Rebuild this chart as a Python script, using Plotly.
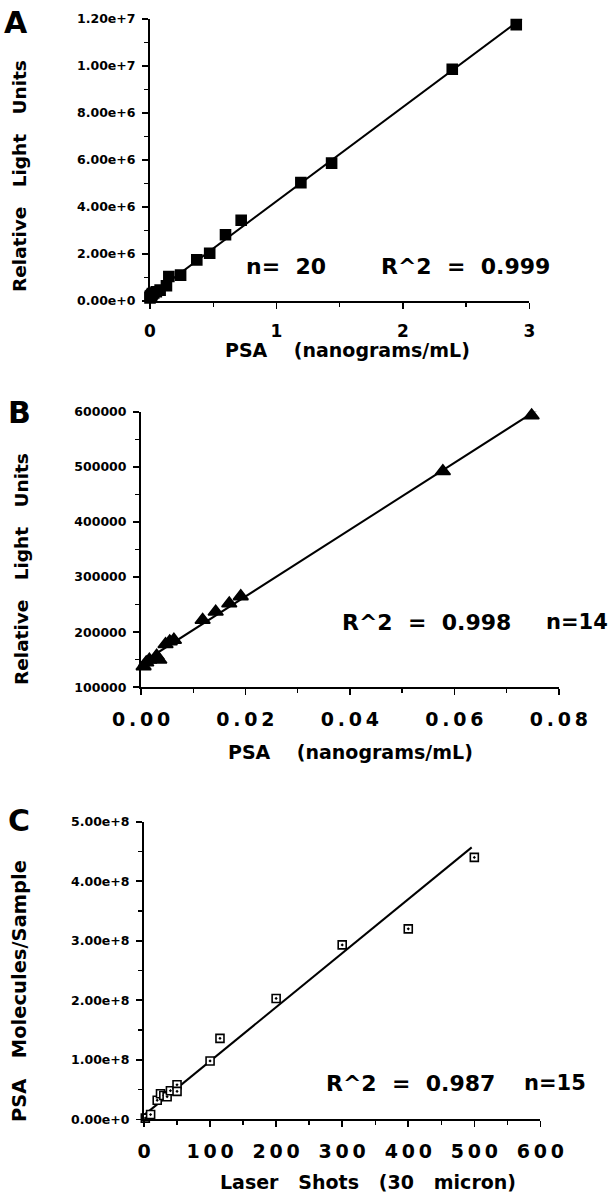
import numpy as np
import plotly.graph_objects as go

W, H = 615, 1199

# ---------------- data ----------------
a_x = [0.0, 0.002, 0.005, 0.01, 0.015, 0.02, 0.03, 0.05, 0.08, 0.13, 0.149, 0.242,
       0.37, 0.472, 0.597, 0.721, 1.193, 1.436, 2.39, 2.896]
a_y = [0.12e6, 0.18e6, 0.20e6, 0.22e6, 0.26e6, 0.30e6, 0.33e6, 0.38e6, 0.45e6, 0.64e6,
       1.03e6, 1.09e6, 1.74e6, 2.02e6, 2.81e6, 3.43e6, 5.03e6, 5.86e6, 9.86e6, 1.176e7]
a_fit_end = 2.985

b_x = [0.0005, 0.001, 0.0016, 0.003, 0.0035, 0.0047, 0.0055, 0.0063, 0.0118, 0.0143,
       0.0169, 0.0191, 0.0578, 0.0748]
b_y = [138000, 145000, 150000, 157000, 150000, 178000, 183000, 186000, 222000, 237000,
       252000, 265000, 492000, 593000]
b_fit_end = 0.0795

c_x = [2, 10, 20, 25, 30, 35, 40, 50, 50, 100, 115, 200, 300, 400, 500]
c_y = [0.02e8, 0.08e8, 0.32e8, 0.43e8, 0.40e8, 0.38e8, 0.48e8, 0.58e8, 0.47e8, 0.98e8,
       1.36e8, 2.03e8, 2.93e8, 3.20e8, 4.40e8]
c_fit_end = 496
# regression line of panel C as printed (slope, intercept)
c_fit_slope = 9.07e5
c_fit_intercept = 0.07e8

a_xticks = [0, 1, 2, 3]
a_yticks = [0, 2e6, 4e6, 6e6, 8e6, 10e6, 12e6]
a_ytext = ["0.00e+0", "2.00e+6", "4.00e+6", "6.00e+6", "8.00e+6", "1.00e+7", "1.20e+7"]
b_xticks = [0, 0.02, 0.04, 0.06, 0.08]
b_xtext = ["0.00", "0.02", "0.04", "0.06", "0.08"]
b_yticks = [100000, 200000, 300000, 400000, 500000, 600000]
c_xticks = [0, 100, 200, 300, 400, 500, 600]
c_yticks = [0, 1e8, 2e8, 3e8, 4e8, 5e8]
c_ytext = ["0.00e+0", "1.00e+8", "2.00e+8", "3.00e+8", "4.00e+8", "5.00e+8"]

FONT = "DejaVu Sans"
TS = "\u2009"  # thin space for letter tracking
NB = "\u00a0"


def spaced(s):
    return TS.join(list(s))


def px(x):
    return x / W


def py(y):
    return 1 - y / H


fig = go.Figure()

panels = [
    dict(k="", x=a_x, y=a_y, end=a_fit_end, coef=None, sym="square", size=10, fill="black",
         xd=(150, 529.4), yd=(19, 300.7), xr=[0, 3], yr=[0, 1.2e7],
         xt=a_xticks, xtt=[str(v) for v in a_xticks], yt=a_yticks, ytt=a_ytext,
         xminor=0.5, yminor=1e6, xfs=17),
    dict(k="2", x=b_x, y=b_y, end=b_fit_end, coef=None, sym="triangle-up", size=13, fill="black",
         xd=(141, 558.8), yd=(411.7, 687.3), xr=[0, 0.08], yr=[100000, 600000],
         xt=b_xticks, xtt=[spaced(t) for t in b_xtext], yt=b_yticks,
         ytt=[str(v) for v in b_yticks], xminor=0.01, yminor=50000, xfs=19),
    dict(k="3", x=c_x, y=c_y, end=c_fit_end, coef=[c_fit_slope, c_fit_intercept],
         sym="square-dot", size=8, fill="white",
         xd=(144, 540.4), yd=(821.7, 1119.3), xr=[0, 600], yr=[0, 5e8],
         xt=c_xticks, xtt=[spaced(str(v)) for v in c_xticks], yt=c_yticks, ytt=c_ytext,
         xminor=50, yminor=0.5e8, xfs=19),
]

for p in panels:
    xa = "x" + p["k"]
    ya = "y" + p["k"]
    coef = p["coef"]
    if coef is None:
        coef = np.polyfit(np.array(p["x"], float), np.array(p["y"], float), 1)
    lx = np.array([0.0, p["end"]])
    ly = np.polyval(coef, lx)
    fig.add_trace(go.Scatter(x=lx, y=ly, mode="lines", line=dict(color="black", width=2),
                             xaxis=xa, yaxis=ya, showlegend=False, hoverinfo="skip"))
    fig.add_trace(go.Scatter(x=p["x"], y=p["y"], mode="markers", cliponaxis=False,
                             marker=dict(symbol=p["sym"], size=p["size"], color=p["fill"],
                                         line=dict(color="black", width=1.6)),
                             xaxis=xa, yaxis=ya, showlegend=False))
    common = dict(showline=True, linecolor="black", linewidth=2, ticks="outside",
                  ticklen=6, tickwidth=1.6, tickcolor="black", showgrid=False,
                  zeroline=False, fixedrange=True, automargin=False)
    fig.layout["xaxis" + p["k"]] = dict(
        domain=[px(p["xd"][0]), px(p["xd"][1])], range=p["xr"], anchor=ya,
        tickmode="array", tickvals=p["xt"], ticktext=p["xtt"],
        tickfont=dict(family=FONT, size=p["xfs"], color="black", weight="bold"),
        ticklabelstandoff=8,
        minor=dict(dtick=p["xminor"], ticks="outside", ticklen=4, tickwidth=1.4,
                   tickcolor="black", showgrid=False),
        **common)
    fig.layout["yaxis" + p["k"]] = dict(
        domain=[py(p["yd"][1]), py(p["yd"][0])], range=p["yr"], anchor=xa,
        tickmode="array", tickvals=p["yt"], ticktext=p["ytt"],
        tickfont=dict(family=FONT, size=12.5, color="black", weight="bold"),
        ticklabelstandoff=4,
        minor=dict(dtick=p["yminor"], ticks="outside", ticklen=4, tickwidth=1.4,
                   tickcolor="black", showgrid=False),
        **common)


def ann(text, x, y, size, angle=0):
    fig.add_annotation(text=text, x=px(x), y=py(y), xref="paper", yref="paper",
                       xanchor="center", yanchor="middle", showarrow=False, textangle=angle,
                       font=dict(family=FONT, size=size, color="black", weight="bold"))


sp2 = NB * 2
sp3 = NB * 3
sp4 = NB * 4
# panel letters
ann("A", 16, 22, 30)
ann("B", 19, 412, 30)
ann("C", 18.5, 820, 30)
# axis titles
ann("PSA" + sp4 + "(nanograms/mL)", 348, 350, 19)
ann("PSA" + sp4 + "(nanograms/mL)", 350, 752, 19)
ann("Laser" + sp3 + "Shots" + sp3 + "(30" + sp3 + "micron)", 367.6, 1182, 19)
ann("Relative" + sp3 + "Light" + sp3 + "Units", 19, 176, 18.5, -90)
ann("Relative" + sp3 + "Light" + sp3 + "Units", 21, 569, 18.5, -90)
ann("PSA" + sp3 + "Molecules/Sample", 19, 991, 19.5, -90)
# statistics
ann("n=" + sp2 + "20", 286, 267, 22)
ann("R^2" + sp2 + "=" + sp2 + "0.999", 465, 267, 22)
ann("R^2" + sp2 + "=" + sp2 + "0.998", 426.6, 622, 22)
ann("n=14", 576.5, 622, 21)
ann("R^2" + sp2 + "=" + sp2 + "0.987", 410.8, 1083, 22)
ann("n=15", 555.3, 1083, 21)

fig.update_layout(width=W, height=H, margin=dict(l=0, r=0, t=0, b=0, autoexpand=False),
                  paper_bgcolor="white", plot_bgcolor="white",
                  font=dict(family=FONT, color="black"), hovermode=False)

# remove the default page margin so the 615x1199 figure fills the window exactly
fig.write_html("out.html",
               config={"displayModeBar": False, "staticPlot": True},
               post_script="document.body.style.margin='0';document.body.style.overflow='hidden';")
